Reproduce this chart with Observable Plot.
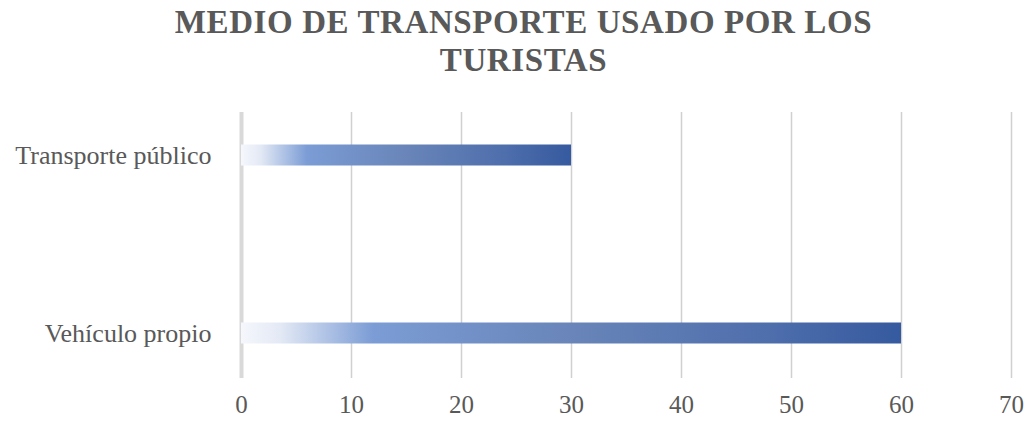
<!DOCTYPE html>
<html>
<head>
<meta charset="utf-8">
<script src="https://cdn.jsdelivr.net/npm/d3@7"></script>
<script src="https://cdn.jsdelivr.net/npm/@observablehq/plot@0.6"></script>
<style>
  html, body { margin: 0; padding: 0; background: #fff; }
  #title {
    width: 1027px; height: 95px; box-sizing: border-box;
    padding-top: 3px; padding-left: 20px;
    text-align: center;
    font-family: "Liberation Serif", "Times New Roman", serif;
    font-weight: bold; font-size: 33px; line-height: 38px;
    color: #595959; letter-spacing: 0.6px;
  }
  #chart svg { display: block; }
</style>
</head>
<body>
<div id="title">MEDIO DE TRANSPORTE USADO POR LOS<br>TURISTAS</div>
<div id="chart"></div>
<script>
const categories = ["Transporte público", "Vehículo propio"];
const values = [30, 60];
const xTicks = [0, 10, 20, 30, 40, 50, 60, 70];

const data = categories.map((c, i) => ({category: c, value: values[i]}));

const plot = Plot.plot({
  width: 1027,
  height: 326,
  marginTop: 17,
  marginBottom: 43,
  marginLeft: 241,
  marginRight: 16,
  style: {fontFamily: "'Liberation Serif', 'Times New Roman', serif", color: "#595959", background: "#fff", overflow: "visible"},
  x: {domain: [0, 70], ticks: xTicks, tickSize: 0, label: null},
  y: {type: "band", domain: categories, range: [-29, 327], padding: 0, tickSize: 0, label: null},
  marks: [
    Plot.ruleX(xTicks.filter(d => d !== 0), {stroke: "#d0d0d0", strokeWidth: 1.5, strokeOpacity: 1}),
    Plot.ruleX([0], {stroke: "#d9d9d9", strokeWidth: 4}),
    Plot.barX(data, {x: "value", y: "category", fill: "url(#barGrad)", insetTop: 78.5, insetBottom: 78.5}),
    Plot.axisX({ticks: xTicks, tickSize: 0, tickPadding: 17, fontSize: 25, fill: "#595959", label: null}),
    Plot.axisY({tickSize: 0, tickPadding: 30, fontSize: 26, fill: "#595959", label: null})
  ]
});

const svg = d3.select(plot);
const defs = svg.insert("defs", ":first-child");
const grad = defs.append("linearGradient").attr("id", "barGrad")
  .attr("x1", "0").attr("y1", "0").attr("x2", "1").attr("y2", "0");
[
  [0, "#f5f7fc"],
  [0.06, "#e3e9f5"],
  [0.2, "#7b9cd5"],
  [0.5, "#6985b9"],
  [0.8, "#4e6eac"],
  [1, "#365a9f"]
].forEach(([o, c]) => grad.append("stop").attr("offset", o).attr("stop-color", c));

document.getElementById("chart").appendChild(plot);
</script>
</body>
</html>
